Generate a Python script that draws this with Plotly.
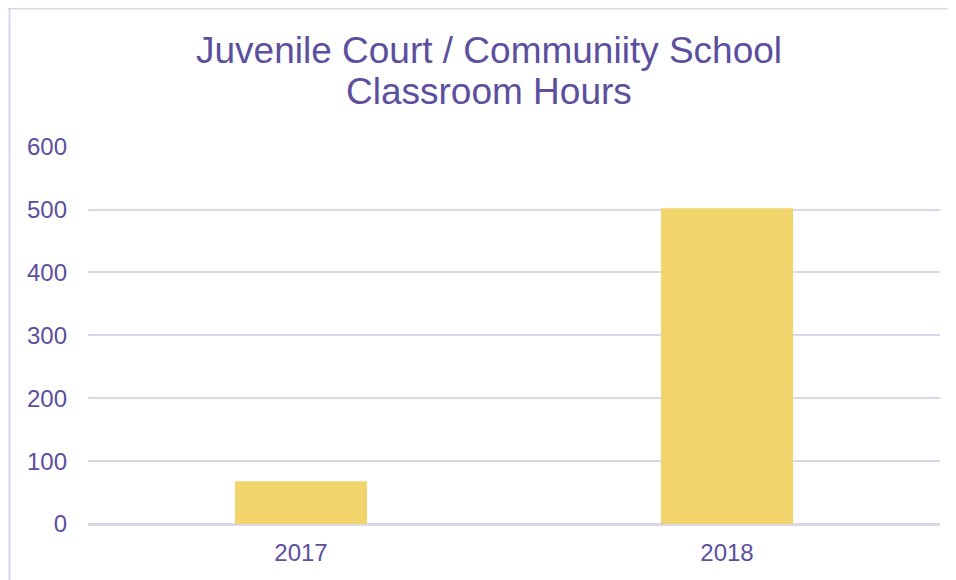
import plotly.graph_objects as go

categories = ["2017", "2018"]
hours = [68, 502]
y_ticks = [0, 100, 200, 300, 400, 500, 600]
title_lines = ["Juvenile Court / Communiity School", "Classroom Hours"]

purple = "#5B4F9E"
grid = "#DAD7EA"
bar_color = "#F2D46C"

W, H = 956, 580
L, R, T, B = 80, 24, 138, 64
pw, ph = W - L - R, H - T - B

def px_x(x):
    return (x - L) / pw

def px_y(y):
    return (H - B - y) / ph

fig = go.Figure(go.Bar(x=categories, y=hours, marker=dict(color=bar_color, line=dict(width=0)), width=0.31))

title_y = [42.5, 83.5]
annotations = [dict(text=t, x=px_x(481), y=px_y(yy), xref="paper", yref="paper",
                    xanchor="center", yanchor="middle", showarrow=False,
                    font=dict(size=37, color=purple))
               for t, yy in zip(title_lines, title_y)]

border = dict(color=grid, width=2)
shapes = [
    dict(type="line", xref="paper", yref="paper", x0=px_x(0), x1=px_x(W), y0=px_y(0.5), y1=px_y(0.5), line=border, layer="below"),
    dict(type="line", xref="paper", yref="paper", x0=px_x(1.5), x1=px_x(1.5), y0=px_y(0), y1=px_y(H), line=border, layer="below"),
]

fig.update_layout(
    width=W, height=H,
    margin=dict(l=L, r=R, t=T, b=B),
    paper_bgcolor="white", plot_bgcolor="white",
    font=dict(family="Liberation Sans, Arial, sans-serif", color=purple),
    showlegend=False,
    annotations=annotations,
    shapes=shapes,
    xaxis=dict(showgrid=False, showline=False, zeroline=False, ticks="", automargin=False,
               tickfont=dict(size=24, color=purple), ticklabelstandoff=12),
    yaxis=dict(range=[0, 601], tickvals=y_ticks, showgrid=True, gridcolor=grid, gridwidth=2, automargin=False,
               zeroline=True, zerolinecolor=grid, zerolinewidth=3, showline=False, ticks="",
               tickfont=dict(size=24, color=purple), ticklabelstandoff=20),
)

fig.write_html("out.html")
